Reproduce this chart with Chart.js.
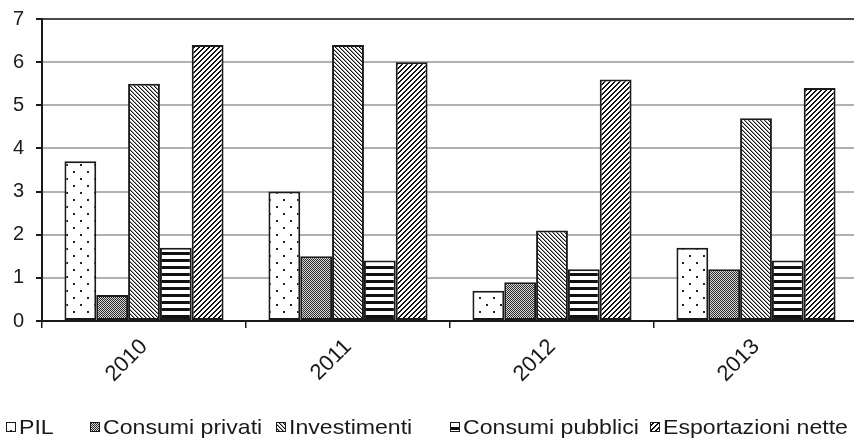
<!DOCTYPE html>
<html>
<head>
<meta charset="utf-8">
<script src="https://cdn.jsdelivr.net/npm/chart.js@4/dist/chart.umd.min.js"></script>
<style>
  html, body { margin: 0; padding: 0; background: #fff; overflow: hidden; width: 854px; height: 446px; }
  #wrap { position: absolute; left: 0; top: 0; width: 862px; height: 446px; }
</style>
</head>
<body>
<div id="wrap"><canvas id="grafico" width="862" height="446"></canvas></div>
<script>
// Dati (variazioni percentuali)
const anni = ['2010', '2011', '2012', '2013'];
const pil = [3.7, 3.0, 0.7, 1.7];
const consumiPrivati = [0.6, 1.5, 0.9, 1.2];
const investimenti = [5.5, 6.4, 2.1, 4.7];
const consumiPubblici = [1.7, 1.4, 1.2, 1.4];
const esportazioniNette = [6.4, 6.0, 5.6, 5.4];
const etichetteSerie = ['PIL', 'Consumi privati', 'Investimenti', 'Consumi pubblici', 'Esportazioni nette'];
const yMin = 0, yMax = 7, yPasso = 1;

const FONT = "'Liberation Sans', Arial, sans-serif";
const INK = '#1a1a1a';

// Retini in bianco e nero costruiti pixel per pixel
function retino(w, h, inkAt) {
  const c = document.createElement('canvas');
  c.width = w; c.height = h;
  const g = c.getContext('2d');
  g.fillStyle = '#fff';
  g.fillRect(0, 0, w, h);
  for (let y = 0; y < h; y++)
    for (let x = 0; x < w; x++) {
      const col = inkAt(x, y);
      if (col) { g.fillStyle = col; g.fillRect(x, y, 1, 1); }
    }
  return document.createElement('canvas').getContext('2d').createPattern(c, 'repeat');
}

const pPil = retino(14, 14, (x, y) =>
  (((x === 3 || x === 4) && (y === 3 || y === 4)) || ((x === 10 || x === 11) && (y === 10 || y === 11))) ? '#222' : null);
const pPrivati = retino(2, 2, (x, y) => (x + y) % 2 === 0 ? '#2a2a2a' : '#d8d8d8');
const pInvestimenti = retino(4, 4, (x, y) => {
  const d = ((x - y) % 4 + 4) % 4;
  return d === 0 ? '#111' : (d === 1 ? '#9a9a9a' : null);
});
const pPubblici = retino(1, 7, (x, y) => y < 3 ? '#111' : null);
const pEsportazioni = retino(5, 5, (x, y) => (x + y) % 5 < 2 ? '#111' : null);

const serie = [pil, consumiPrivati, investimenti, consumiPubblici, esportazioniNette];
const retini = [pPil, pPrivati, pInvestimenti, pPubblici, pEsportazioni];

// Legenda disegnata sotto il grafico, con posizioni fisse delle voci
const vociLegenda = [6, 90, 276, 450, 650];
const legendaBasso = {
  id: 'legendaBasso',
  afterDraw(chart) {
    const ctx = chart.ctx;
    ctx.save();
    ctx.textBaseline = 'middle';
    const yc = 427;
    chart.data.datasets.forEach((ds, i) => {
      const x = vociLegenda[i];
      ctx.fillStyle = ds.backgroundColor;
      ctx.fillRect(x, yc - 5, 10, 10);
      ctx.strokeStyle = INK;
      ctx.lineWidth = 1;
      ctx.strokeRect(x + 0.5, yc - 4.5, 9, 9);
      // testo leggermente allargato in orizzontale
      ctx.save();
      ctx.translate(x + 13, yc + 1);
      ctx.scale(1.1, 1);
      ctx.font = '21px ' + FONT;
      ctx.fillStyle = INK;
      ctx.fillText(ds.label, 0, 0);
      ctx.restore();
    });
    ctx.restore();
  }
};

new Chart(document.getElementById('grafico'), {
  type: 'bar',
  data: {
    labels: anni,
    datasets: serie.map((valori, i) => ({
      label: etichetteSerie[i],
      data: valori,
      backgroundColor: retini[i],
      borderColor: INK,
      borderWidth: 2,
      borderSkipped: false,
      categoryPercentage: 0.78,
      barPercentage: 1.0
    }))
  },
  options: {
    responsive: false,
    animation: false,
    devicePixelRatio: 1,
    layout: { padding: { top: 19, right: 4, left: 0, bottom: 0 } },
    plugins: { legend: { display: false }, tooltip: { enabled: false } },
    scales: {
      x: {
        offset: true,
        grid: { display: true, drawOnChartArea: false, color: INK, tickColor: INK, tickLength: 7, lineWidth: 1.5 },
        border: { display: true, color: INK, width: 2 },
        ticks: {
          color: INK,
          font: { family: FONT, size: 22 },
          maxRotation: 45, minRotation: 45,
          padding: 6
        },
        afterFit(scale) { scale.height = 125; scale.paddingLeft = 0; scale.paddingRight = 0; }
      },
      y: {
        min: yMin, max: yMax,
        grid: {
          color: ctx => (ctx.tick && ctx.tick.value === yMax) ? '#4a4a4a' : '#b0b0b0',
          lineWidth: 2,
          tickColor: INK,
          tickLength: 6
        },
        border: { display: true, color: INK, width: 2 },
        ticks: {
          stepSize: yPasso,
          color: INK,
          font: { family: FONT, size: 20 },
          padding: 12
        },
        afterFit(scale) { scale.width = 42; scale.paddingTop = 0; scale.paddingBottom = 0; }
      }
    }
  },
  plugins: [legendaBasso]
});
</script>
</body>
</html>
